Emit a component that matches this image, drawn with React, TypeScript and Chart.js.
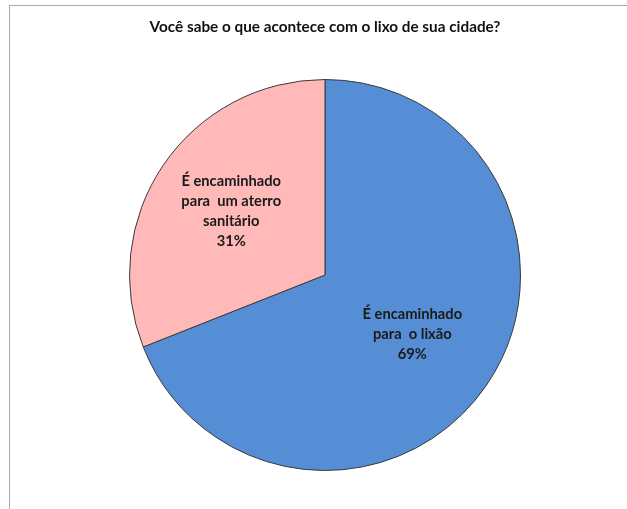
import React, { useEffect, useRef } from "react";
import { Chart, registerables } from "chart.js";

Chart.register(...registerables);

const TITLE = "Você sabe o que acontece com o lixo de sua cidade?";
const CATEGORIES = [
  ["É encaminhado", "para  o lixão"],
  ["É encaminhado", "para  um aterro", "sanitário"],
];
const VALUES = [69, 31];
const PERCENT_LABELS = ["69%", "31%"];
const COLORS = ["#558ED5", "#FFB9B9"];

const FONT = "Lato, 'Open Sans', sans-serif";

const labelPlugin = {
  id: "sliceLabels",
  afterDatasetsDraw(chart: any) {
    const ctx = chart.ctx;
    const meta = chart.getDatasetMeta(0);
    const dist = [0.54, 0.58];
    ctx.save();
    ctx.font = `bold 14.7px ${FONT}`;
    ctx.fillStyle = "#1a1a1a";
    ctx.textAlign = "center";
    ctx.textBaseline = "middle";
    meta.data.forEach((arc: any, i: number) => {
      const { x, y, startAngle, endAngle, outerRadius } = arc.getProps(
        ["x", "y", "startAngle", "endAngle", "outerRadius"],
        true
      );
      const mid = (startAngle + endAngle) / 2;
      const r = outerRadius * dist[i];
      const cx = x + Math.cos(mid) * r;
      const cy = y + Math.sin(mid) * r;
      const lines = [...CATEGORIES[i], PERCENT_LABELS[i]];
      const lh = 19.8;
      const top = cy - ((lines.length - 1) * lh) / 2;
      lines.forEach((t, k) => ctx.fillText(t, cx, top + k * lh));
    });
    ctx.restore();
  },
};

const titlePlugin = {
  id: "customTitle",
  afterDraw(chart: any) {
    const ctx = chart.ctx;
    ctx.save();
    ctx.font = `bold 15.3px ${FONT}`;
    ctx.fillStyle = "#111";
    ctx.textAlign = "center";
    ctx.textBaseline = "middle";
    ctx.fillText(TITLE, 325, 27);
    ctx.restore();
  },
};

export default function App() {
  const ref = useRef<HTMLCanvasElement>(null);
  useEffect(() => {
    if (!ref.current) return;
    const chart = new Chart(ref.current, {
      type: "pie",
      data: {
        labels: CATEGORIES.map((c) => c.join(" ")),
        datasets: [
          {
            data: VALUES,
            backgroundColor: COLORS,
            borderColor: "#3a3a3a",
            borderWidth: 1,
          },
        ],
      },
      options: {
        animation: false,
        responsive: false,
        maintainAspectRatio: false,
        layout: { padding: { top: 79, bottom: 38, left: 129, right: 106 } },
        plugins: {
          legend: { display: false },
          title: { display: false },
          tooltip: { enabled: false },
        },
      },
      plugins: [labelPlugin, titlePlugin],
    });
    return () => chart.destroy();
  }, []);
  return (
    <div style={{ position: "fixed", left: 0, top: 0, width: 627, height: 509, background: "#fff", overflow: "hidden" }}>
      <div
        style={{
          position: "absolute",
          left: 9,
          top: 5,
          width: 700,
          height: 600,
          border: "1px solid #a8a8a8",
        }}
      />
      <canvas ref={ref} width={627} height={509} style={{ position: "absolute", left: 0, top: 0 }} />
    </div>
  );
}
